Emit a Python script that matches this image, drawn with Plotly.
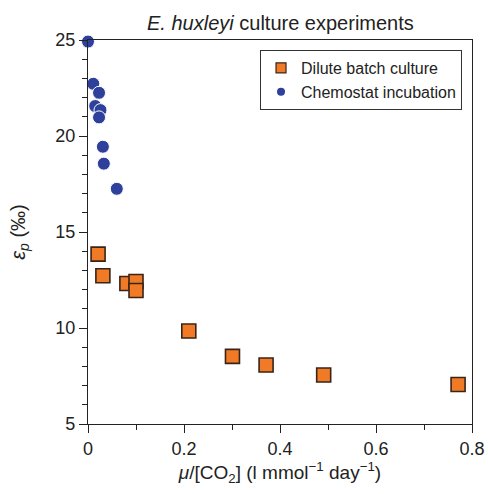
import plotly.graph_objects as go

# Dilute batch culture (orange squares)
batch_x = [0.021, 0.031, 0.081, 0.100, 0.100, 0.210, 0.301, 0.371, 0.491, 0.771]
batch_y = [13.85, 12.72, 12.32, 12.42, 11.95, 9.84, 8.52, 8.07, 7.55, 7.06]

# Chemostat incubation (blue circles)
chemo_x = [0.000, 0.011, 0.023, 0.015, 0.026, 0.023, 0.031, 0.033, 0.060]
chemo_y = [24.92, 22.72, 22.25, 21.56, 21.35, 20.97, 19.44, 18.56, 17.25]

x_ticks = [0, 0.2, 0.4, 0.6, 0.8]
y_ticks = [5, 10, 15, 20, 25]

FONT = "Liberation Sans, Arial, sans-serif"
ORANGE = "#F07A26"
BLUE = "#2E3F9C"

fig = go.Figure()
fig.add_trace(go.Scatter(
    x=batch_x, y=batch_y, mode="markers", name="Dilute batch culture",
    marker=dict(symbol="square", size=14, color=ORANGE,
                line=dict(color="#3a2418", width=1.6)),
    showlegend=False,
))
fig.add_trace(go.Scatter(
    x=chemo_x, y=chemo_y, mode="markers", name="Chemostat incubation",
    marker=dict(symbol="circle", size=13, color=BLUE,
                line=dict(color="white", width=1)),
    cliponaxis=False, showlegend=False,
))
# legend entries (smaller legend symbols as in the reference)
fig.add_trace(go.Scatter(
    x=[None], y=[None], mode="markers", name="Dilute batch culture",
    marker=dict(symbol="square", size=10, color=ORANGE,
                line=dict(color="#3a2418", width=1.2)),
))
fig.add_trace(go.Scatter(
    x=[None], y=[None], mode="markers", name="Chemostat incubation",
    marker=dict(symbol="circle", size=8, color=BLUE, line=dict(width=0)),
))

axis_common = dict(
    showline=True, linecolor="#222", linewidth=1.2, mirror=True,
    ticks="outside", ticklen=8, tickwidth=1.2, tickcolor="#222",
    showgrid=False, zeroline=False, automargin=False,
    tickfont=dict(family=FONT, size=18, color="#222"),
)

fig.update_xaxes(
    range=[0, 0.8], tickvals=x_ticks, ticktext=[str(v) for v in x_ticks],
    minor=dict(ticks="outside", dtick=0.1, ticklen=5, tickwidth=1.2, tickcolor="#222", showgrid=False),
    title=dict(text="<i>μ</i>/[CO<sub>2</sub>] (l mmol<sup>−1</sup> day<sup>−1</sup>)",
               font=dict(family=FONT, size=19, color="#222"), standoff=7),
    **axis_common,
)
fig.update_yaxes(
    range=[5, 25], tickvals=y_ticks,
    minor=dict(ticks="outside", dtick=1, ticklen=5, tickwidth=1.2, tickcolor="#222", showgrid=False),
    title=dict(text="<i>ε<sub>p</sub></i> (‰)",
               font=dict(family=FONT, size=20, color="#222"), standoff=24),
    **axis_common,
)

fig.add_annotation(
    text="<i>E. huxleyi</i> culture experiments", xref="paper", yref="paper",
    x=0.5, y=1.0, yshift=4, xanchor="center", yanchor="bottom", showarrow=False,
    font=dict(family=FONT, size=20, color="#222"),
)

fig.update_layout(
    width=488, height=494,
    margin=dict(l=88, r=16, t=40, b=70),
    plot_bgcolor="white", paper_bgcolor="white",
    showlegend=True,
    legend=dict(
        x=0.974, y=0.974, xanchor="right", yanchor="top",
        bordercolor="#333", borderwidth=1, bgcolor="white",
        font=dict(family=FONT, size=16, color="#222"),
        itemwidth=30, tracegroupgap=0,
    ),
)

fig.write_html("out.html")
